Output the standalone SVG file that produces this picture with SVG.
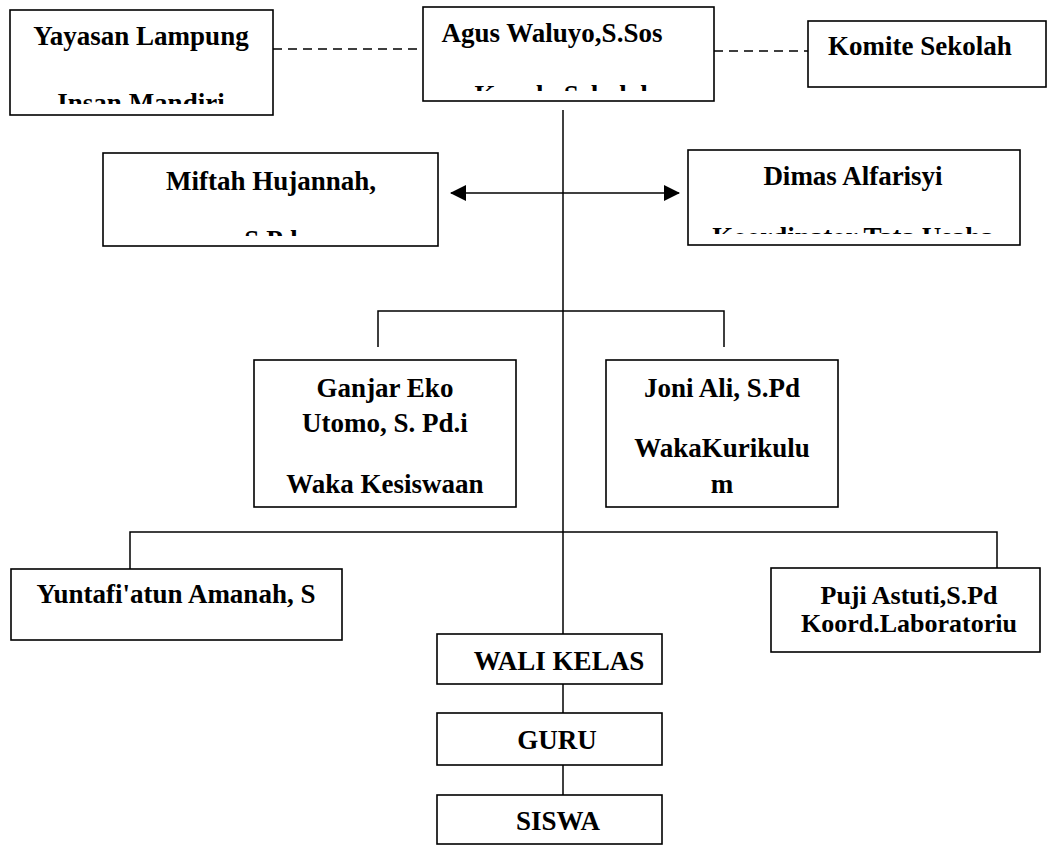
<svg xmlns="http://www.w3.org/2000/svg" width="1048" height="846" viewBox="0 0 1048 846">
<style>
.box{fill:#fff;stroke:#000;stroke-width:1.6}
.ln{fill:none;stroke:#000;stroke-width:1.5}
.dash{fill:none;stroke:#000;stroke-width:1.5;stroke-dasharray:9 6}
text{font-family:"Liberation Serif","Times New Roman",serif;font-weight:bold;font-size:27px;fill:#000;text-anchor:middle}
.tight{font-size:26px}
</style>
<defs>
<marker id="ah" viewBox="0 0 16 16" refX="15" refY="8" markerWidth="16" markerHeight="16" markerUnits="userSpaceOnUse" orient="auto-start-reverse">
<path d="M0,0 L16,8 L0,16 Z" fill="#000"/>
</marker>
<clipPath id="c-yay"><rect x="10" y="10" width="263" height="94"/></clipPath>
<clipPath id="c-agus"><rect x="423" y="7" width="291" height="84"/></clipPath>
<clipPath id="c-mif"><rect x="103" y="153" width="335" height="83"/></clipPath>
<clipPath id="c-dim"><rect x="688" y="150" width="332" height="84"/></clipPath>
</defs>
<rect width="1048" height="846" fill="#fff"/>
<g id="connectors">
<line class="dash" x1="273" y1="49" x2="423" y2="49"/>
<line class="dash" x1="714" y1="51" x2="808" y2="51"/>
<line class="ln" x1="563" y1="110" x2="563" y2="634"/>
<line class="ln" x1="451" y1="193" x2="679" y2="193" marker-start="url(#ah)" marker-end="url(#ah)"/>
<polyline class="ln" points="378,347 378,311 724,311 724,347"/>
<polyline class="ln" points="130,569 130,532 997,532 997,568"/>
<line class="ln" x1="563" y1="684" x2="563" y2="713"/>
<line class="ln" x1="563" y1="765" x2="563" y2="795"/>
</g>
<g id="yayasan">
<rect class="box" x="10" y="10" width="263" height="105"/>
<g clip-path="url(#c-yay)">
<text x="141" y="45">Yayasan Lampung</text>
<text x="141" y="112">Insan Mandiri</text>
</g>
</g>
<g id="agus">
<rect class="box" x="423" y="7" width="291" height="94"/>
<g clip-path="url(#c-agus)">
<text x="552" y="42">Agus Waluyo,S.Sos</text>
<text x="565" y="104">Kepala Sekolah</text>
</g>
</g>
<g id="komite">
<rect class="box" x="808" y="21" width="238" height="66"/>
<text x="920" y="55">Komite Sekolah</text>
</g>
<g id="miftah">
<rect class="box" x="103" y="153" width="335" height="93"/>
<g clip-path="url(#c-mif)">
<text x="271" y="190">Miftah Hujannah,</text>
<text x="271" y="249">S.Pd</text>
</g>
</g>
<g id="dimas">
<rect class="box" x="688" y="150" width="332" height="95"/>
<g clip-path="url(#c-dim)">
<text x="853" y="185">Dimas Alfarisyi</text>
<text x="853" y="246">Koordinator Tata Usaha</text>
</g>
</g>
<g id="ganjar">
<rect class="box" x="254" y="360" width="262" height="147"/>
<text x="385" y="397">Ganjar Eko</text>
<text x="385" y="432">Utomo, S. Pd.i</text>
<text x="385" y="493">Waka Kesiswaan</text>
</g>
<g id="joni">
<rect class="box" x="606" y="360" width="232" height="147"/>
<text x="722" y="397">Joni Ali, S.Pd</text>
<text x="722" y="457">WakaKurikulu</text>
<text x="722" y="493">m</text>
</g>
<g id="yuntafi">
<rect class="box" x="11" y="569" width="331" height="71"/>
<text x="176" y="603">Yuntafi'atun Amanah, S</text>
</g>
<g id="puji">
<rect class="box" x="771" y="568" width="269" height="84"/>
<text class="tight" x="909" y="604">Puji Astuti,S.Pd</text>
<text class="tight" x="909" y="632">Koord.Laboratoriu</text>
</g>
<g id="walikelas">
<rect class="box" x="437" y="634" width="225" height="50"/>
<text x="559" y="670">WALI KELAS</text>
</g>
<g id="guru">
<rect class="box" x="437" y="713" width="225" height="52"/>
<text x="557" y="749">GURU</text>
</g>
<g id="siswa">
<rect class="box" x="437" y="795" width="225" height="49"/>
<text x="558" y="830">SISWA</text>
</g>
</svg>
